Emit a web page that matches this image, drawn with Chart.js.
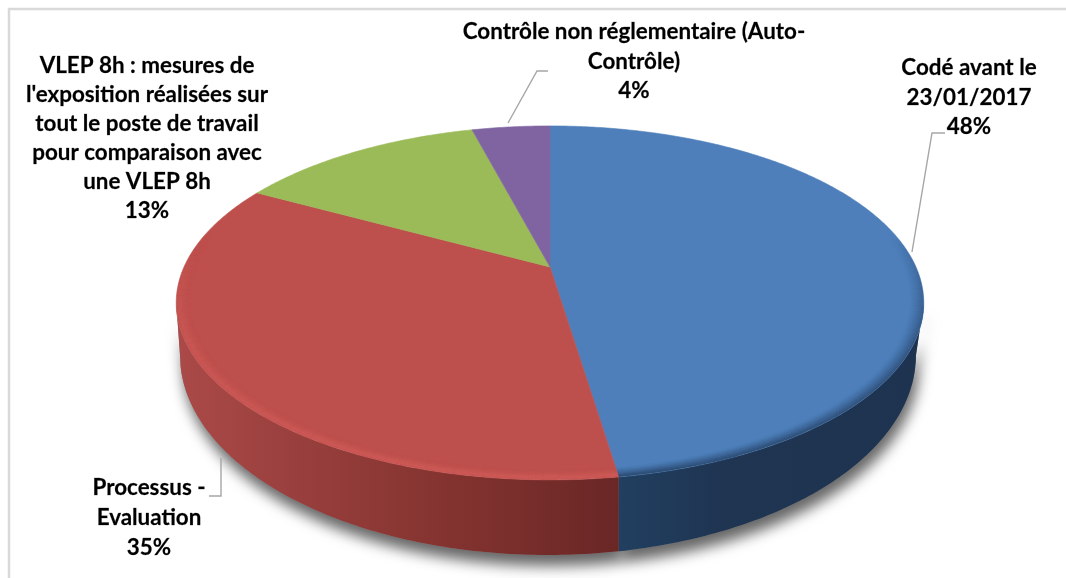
<!DOCTYPE html>
<html><head><meta charset="utf-8">
<style>html,body{margin:0;padding:0;background:#fff}#w{position:absolute;left:0;top:0;width:1066px;height:578px}</style>
<script src="https://cdn.jsdelivr.net/npm/chart.js@4"></script>
</head><body><div id="w"><canvas id="c" width="1066" height="578"></canvas></div>
<script>
const categories = ["Codé avant le 23/01/2017","Processus - Evaluation","VLEP 8h : mesures de l'exposition réalisées sur tout le poste de travail pour comparaison avec une VLEP 8h","Contrôle non réglementaire (Auto-Contrôle)"];
const values = [47.6, 35.35, 12.95, 4.1];
const colors = ["#4e7fbb","#bd4f4c","#9bbb59","#8064a2"];
const labelLines = [["Codé avant le","23/01/2017"],["Processus -","Evaluation"],["VLEP 8h : mesures de","l'exposition réalisées sur","tout le poste de travail","pour comparaison avec","une VLEP 8h"],["Contrôle non réglementaire (Auto-","Contrôle)"]];

// Drawing geometry of the perspective pie (not data)
const G = {cx:550, cy:267, a:366, b:169.7, k:0.203, lowCx:548, lowCy:355, lowRx:368, lowRy:200};
const labelPos = [{x:969,y:68,dy:29.5},{x:149,y:488,dy:30},{x:147,y:66,dy:29},{x:634,y:32,dy:29.5}];
const leaders = [[[945,133],[932,133],[912,252]],[[209,496],[221,496],[221,458]],null,[[548,71],[537,71],[508,123]]];
const wallStops = [
  [[619,"#213f60"],[720,"#1f3552"],[925,"#1e3350"]],
  [[176,"#ab4a48"],[300,"#983f3d"],[450,"#83332f"],[619,"#692726"]],
  null,null];
const bevel = [{c:"28,50,78",mode:"dark",from:-0.2},{c:"226,104,100",mode:"light",from:-0.2},null,null];

function proj(r,th){const u=r*Math.cos(th),v=r*Math.sin(th),w=1-G.k*v;return [G.cx+G.a*u/w,G.cy+G.b*v/w];}
function low(x){const q=Math.max(G.lowCx-G.lowRx,Math.min(G.lowCx+G.lowRx,x));const d=(q-G.lowCx)/G.lowRx;return [q,G.lowCy+G.lowRy*Math.sqrt(Math.max(0,1-d*d))];}

function wallPath(ctx,s,e){
  const n=Math.max(8,Math.ceil((e-s)*80));const pts=[];
  for(let i=0;i<=n;i++){pts.push(proj(1,s+(e-s)*i/n));}
  ctx.beginPath();pts.forEach((p,i)=>i?ctx.lineTo(p[0],p[1]):ctx.moveTo(p[0],p[1]));
  for(let i=n;i>=0;i--){const l=low(pts[i][0]);ctx.lineTo(l[0],l[1]);}
  ctx.closePath();
}
function topPath(ctx,s,e){
  const n=Math.max(8,Math.ceil((e-s)*100));
  ctx.beginPath();ctx.moveTo(G.cx,G.cy);
  for(let i=0;i<=n;i++){const p=proj(1,s+(e-s)*i/n);ctx.lineTo(p[0],p[1]);}
  ctx.closePath();
}
const pie3d={id:'pie3d',
  beforeDatasetsDraw(chart){
    const ctx=chart.ctx,arcs=chart.getDatasetMeta(0).data;
    const tR=Math.asin(G.k),tL=Math.PI-tR;
    const spans=arcs.map(a=>({s:Math.max(a.startAngle,tR),e:Math.min(a.endAngle,tL)}));
    ctx.save();
    // soft cast shadow
    ctx.save();ctx.shadowColor='rgba(0,0,0,0.6)';ctx.shadowBlur=14;ctx.shadowOffsetY=11;ctx.shadowOffsetX=3;ctx.fillStyle='#888';
    spans.forEach(sp=>{if(sp.e>sp.s){wallPath(ctx,sp.s,sp.e);ctx.fill();}});
    ctx.restore();
    // side walls
    spans.forEach((sp,i)=>{ if(sp.e<=sp.s||!wallStops[i])return;
      const st=wallStops[i],x0=st[0][0],x1=st[st.length-1][0];
      const g=ctx.createLinearGradient(x0,0,x1,0);st.forEach(q=>g.addColorStop((q[0]-x0)/(x1-x0),q[1]));
      wallPath(ctx,sp.s,sp.e);ctx.fillStyle=g;ctx.fill();
    });
    // top faces
    arcs.forEach((a,i)=>{topPath(ctx,a.startAngle,a.endAngle);ctx.fillStyle=colors[i];ctx.fill();ctx.strokeStyle=colors[i];ctx.lineWidth=0.6;ctx.stroke();});
    // bevel along the rim
    arcs.forEach((a,i)=>{const b=bevel[i];if(!b)return;
      ctx.save();topPath(ctx,a.startAngle,a.endAngle);ctx.clip();ctx.lineCap='butt';
      const segs=Math.ceil((a.endAngle-a.startAngle)*30);
      for(let j=0;j<14;j++){const r=1-j*0.003;
        const t=j/13;
        const al=b.mode==='dark'?0.8*Math.pow(1-t,1.6):(t<0.2?0.25+t*1.4:0.5*Math.pow(1-(t-0.2)/0.8,1.4));
        for(let q=0;q<segs;q++){
          const t0=a.startAngle+(a.endAngle-a.startAngle)*q/segs,t1=a.startAngle+(a.endAngle-a.startAngle)*(q+1)/segs;
          const v=Math.sin((t0+t1)/2);const f=Math.max(0,Math.min(1,(v-b.from)/0.6));
          if(f<=0)continue;
          const p0=proj(r,t0),p1=proj(r,t1);
          ctx.beginPath();ctx.moveTo(p0[0],p0[1]);ctx.lineTo(p1[0],p1[1]);
          ctx.strokeStyle='rgba('+b.c+','+(al*f*0.42)+')';ctx.lineWidth=2.2;ctx.stroke();
        }
      }
      ctx.restore();
    });
    ctx.restore();
    return false;
  },
  afterDraw(chart){
    const ctx=chart.ctx;ctx.save();
    // frame
    ctx.strokeStyle='#d9d9d9';ctx.lineWidth=2.5;ctx.beginPath();ctx.moveTo(9,578);ctx.lineTo(9,9);ctx.lineTo(1066,9);ctx.stroke();
    // leader lines
    ctx.strokeStyle='#a6a6a6';ctx.lineWidth=1.4;
    leaders.forEach(l=>{if(!l)return;ctx.beginPath();l.forEach((p,i)=>i?ctx.lineTo(p[0],p[1]):ctx.moveTo(p[0],p[1]));ctx.stroke();});
    // labels
    const total=values.reduce((a,b)=>a+b,0);
    ctx.fillStyle='#000';ctx.strokeStyle='rgba(0,0,0,0.55)';ctx.lineWidth=0.35;ctx.textAlign='center';ctx.textBaseline='middle';ctx.font='bold 22.4px Lato';
    categories.forEach((c,i)=>{const lines=labelLines[i].concat(Math.round(values[i]/total*100)+'%');const P=labelPos[i];
      lines.forEach((t,j)=>{ctx.fillText(t,P.x,P.y+j*P.dy);ctx.strokeText(t,P.x,P.y+j*P.dy);});});
    ctx.restore();
  }
};
new Chart(document.getElementById('c'),{type:'pie',
  data:{labels:categories,datasets:[{data:values,backgroundColor:colors,borderWidth:0}]},
  options:{responsive:false,animation:false,plugins:{legend:{display:false},tooltip:{enabled:false}}},
  plugins:[pie3d]});
</script></body></html>
